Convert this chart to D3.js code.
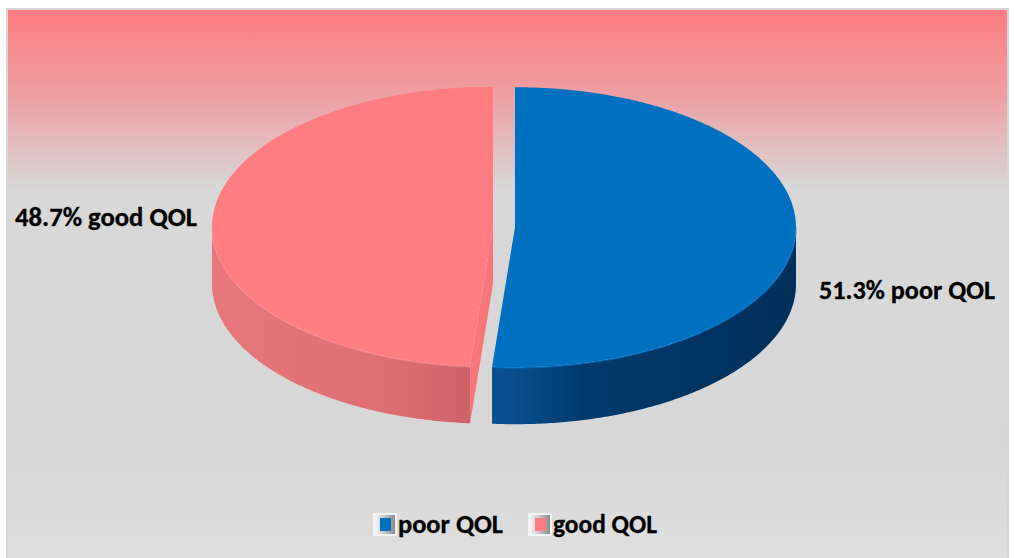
<!DOCTYPE html>
<html><head><meta charset="utf-8">
<script src="https://cdn.jsdelivr.net/npm/d3@7"></script>
<style>html,body{margin:0;padding:0;background:#fff;}svg{display:block;}</style>
</head><body>
<svg id="c" width="1014" height="558"></svg>
<script>
const categories = ["poor QOL", "good QOL"];
const values = [51.3, 48.7];
const labels = ["51.3% poor QOL", "48.7% good QOL"];
const topColors = ["#0070c0", "#ff7c80"];
const cutColors = ["#0a5a9c", "#f6767a"];
const wallLight = ["#0a4f8e", "#e8777b"];
const wallDark = ["#00305a", "#c65e62"];

const W = 1014, H = 558;
const svg = d3.select("#c");
const defs = svg.append("defs");

// background gradient
const bg = defs.append("linearGradient").attr("id","bg").attr("gradientUnits","userSpaceOnUse")
  .attr("x1",0).attr("y1",9).attr("x2",0).attr("y2",560);
bg.append("stop").attr("offset","0%").attr("stop-color","#ff7b80");
bg.append("stop").attr("offset","16%").attr("stop-color","#eda1a3");
bg.append("stop").attr("offset","33%").attr("stop-color","#d8d8d8");
bg.append("stop").attr("offset","80%").attr("stop-color","#d7d7d7");
bg.append("stop").attr("offset","100%").attr("stop-color","#dfdfdf");
svg.append("rect").attr("x",7).attr("y",9).attr("width",1001).attr("height",560)
  .attr("fill","url(#bg)").attr("stroke","#d6d6d6").attr("stroke-width",2);

// pie geometry
const cx = 504, cy = 227, rx = 281, ry = 140, depth = 57, explode = 11;
const pie = d3.pie().sort(null).value(d => d)(values);

function pt(c, a, dy) { return [c[0] + rx*Math.sin(a), c[1] - ry*Math.cos(a) + (dy||0)]; }
function arcPts(c, a0, a1, dy) {
  const n = Math.max(2, Math.ceil((a1 - a0) / 0.01));
  const p = [];
  for (let i = 0; i <= n; i++) p.push(pt(c, a0 + (a1 - a0) * i / n, dy));
  return p;
}
const line = d3.line();

pie.forEach((s, i) => {
  const mid = (s.startAngle + s.endAngle) / 2;
  const c = [cx + explode*Math.sin(mid), cy - explode*Math.cos(mid)*(ry/rx)];
  const g = svg.append("g");

  const gid = "wall" + i;
  const gr = defs.append("linearGradient").attr("id", gid).attr("gradientUnits","userSpaceOnUse")
    .attr("x1", c[0]-rx).attr("x2", c[0]+rx).attr("y1",0).attr("y2",0);
  if (i === 0) {
    gr.append("stop").attr("offset","0%").attr("stop-color", wallLight[i]);
    gr.append("stop").attr("offset","50%").attr("stop-color", wallLight[i]);
    gr.append("stop").attr("offset","62%").attr("stop-color", "#003a6c");
    gr.append("stop").attr("offset","100%").attr("stop-color", wallDark[i]);
  } else {
    gr.append("stop").attr("offset","0%").attr("stop-color", wallLight[i]);
    gr.append("stop").attr("offset","35%").attr("stop-color", "#dc6c70");
    gr.append("stop").attr("offset","50%").attr("stop-color", wallDark[i]);
    gr.append("stop").attr("offset","100%").attr("stop-color", wallDark[i]);
  }

  // cut faces (only front-facing)
  [[s.startAngle, s.startAngle - Math.PI/2], [s.endAngle, s.endAngle + Math.PI/2]].forEach(([a, nA]) => {
    if (-Math.cos(nA) > 0.01) {
      const e = pt(c, a);
      const q = [c, e, [e[0], e[1]+depth], [c[0], c[1]+depth]];
      g.append("path").attr("d", line(q) + "Z").attr("fill", cutColors[i]);
    }
  });

  // outer wall (front half only)
  const w0 = Math.max(s.startAngle, Math.PI/2), w1 = Math.min(s.endAngle, 3*Math.PI/2);
  if (w1 > w0) {
    const topE = arcPts(c, w0, w1, 0);
    const botE = arcPts(c, w0, w1, depth).reverse();
    g.append("path").attr("d", line(topE.concat(botE)) + "Z").attr("fill", `url(#${gid})`);
  }

  // top face
  const tp = [c].concat(arcPts(c, s.startAngle, s.endAngle, 0));
  g.append("path").attr("d", line(tp) + "Z").attr("fill", topColors[i]);

  // subtle rim highlight
  if (w1 > w0) {
    g.append("path").attr("d", line(arcPts(c, w0, w1, 0.5))).attr("fill","none")
      .attr("stroke", d3.color(topColors[i]).brighter(0.5)).attr("stroke-opacity", 0.5).attr("stroke-width", 1.5);
  }
});

// data labels
const labelPos = [{x: 819, y: 299, w: 176}, {x: 15, y: 226, w: 182}];
labels.forEach((t, i) => {
  svg.append("text").attr("x", labelPos[i].x).attr("y", labelPos[i].y)
    .attr("font-family", "Carlito, Calibri, 'Liberation Sans', Arial, sans-serif")
    .attr("font-weight", "bold").attr("font-size", 26)
    .attr("textLength", labelPos[i].w).attr("lengthAdjust", "spacingAndGlyphs")
    .attr("stroke", "#000").attr("stroke-width", 0.3)
    .attr("fill", "#000").text(t);
});

// legend
const kg = defs.append("linearGradient").attr("id","key").attr("x1",0).attr("x2",1).attr("y1",0).attr("y2",0);
kg.append("stop").attr("offset","0%").attr("stop-color","#f2f2f2");
kg.append("stop").attr("offset","100%").attr("stop-color","#8c8c8c");
const legX = [373, 528], legTextW = [105, 104];
categories.forEach((cat, i) => {
  const x = legX[i];
  svg.append("rect").attr("x", x).attr("y", 513).attr("width", 24).attr("height", 23).attr("fill", "#f4f4f4");
  svg.append("rect").attr("x", x+3).attr("y", 515).attr("width", 19).attr("height", 19).attr("fill", "url(#key)");
  svg.append("rect").attr("x", x+7).attr("y", 518).attr("width", 11).attr("height", 13).attr("fill", topColors[i]);
  svg.append("text").attr("x", x + 25).attr("y", 533)
    .attr("font-family", "Carlito, Calibri, 'Liberation Sans', Arial, sans-serif")
    .attr("font-weight", "bold").attr("font-size", 26)
    .attr("textLength", legTextW[i]).attr("lengthAdjust", "spacingAndGlyphs")
    .attr("stroke", "#000").attr("stroke-width", 0.3)
    .attr("fill", "#000").text(cat);
});
</script>
</body></html>
